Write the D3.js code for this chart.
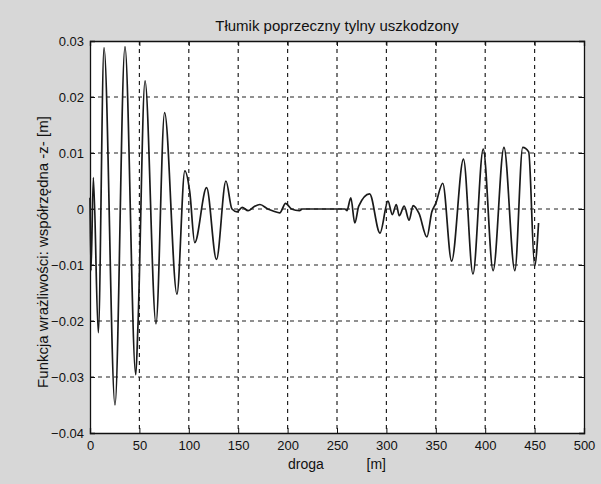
<!DOCTYPE html>
<html>
<head>
<meta charset="utf-8">
<script src="https://cdnjs.cloudflare.com/ajax/libs/d3/7.8.5/d3.min.js"></script>
<style>
  html, body { margin: 0; padding: 0; background: #d7d7d7; }
  svg text { font-family: "Liberation Sans", Arial, sans-serif; fill: #111; }
</style>
</head>
<body>
<div id="chart"></div>
<script>
// Values (extrema of the trace)
const distance = [
  0, 1, 3.4, 8.4, 14.2, 25.3, 35.4, 46.3, 48.5, 55.7, 66.8, 75.5, 88,
  96, 101, 106, 118, 128, 137.6, 143.7, 149, 154, 160, 166, 172, 180, 186, 192, 198, 204, 212, 215,
  258, 260, 264, 268, 272, 283, 293.5, 301.6, 306, 310, 313, 318, 323, 327, 333, 341, 346,
  350, 357, 366, 378, 387.6, 398, 408, 419, 430, 438, 444, 450, 454
];
const response = [
  0.002, -0.011, 0.0056, -0.0221, 0.0288, -0.035, 0.029, -0.0296, -0.021, 0.0229, -0.0205, 0.0172, -0.0152,
  0.0068, 0.003, -0.006, 0.0038, -0.009, 0.005, 0, -0.0005, 0.0003, -0.0003, 0.0004, 0.0008, 0, -0.0004, -0.0007, 0.001, 0, -0.0003, 0,
  0, -0.0003, 0.002, -0.0025, 0.0005, 0.0027, -0.0043, 0.0014, -0.001, 0.0008, -0.0012, 0.0005, -0.002, 0.0006, -0.0008, -0.005, -0.0005,
  0.001, 0.0046, -0.0093, 0.0089, -0.0116, 0.0107, -0.011, 0.011, -0.011, 0.011, 0.0102, -0.0102, -0.0025
];
const xTicks = [0, 50, 100, 150, 200, 250, 300, 350, 400, 450, 500];
const yTicks = [-0.04, -0.03, -0.02, -0.01, 0, 0.01, 0.02, 0.03];

const width = 601, height = 484;
const margin = { top: 41, right: 17, bottom: 51, left: 90 };

const svg = d3.select('#chart').append('svg')
  .attr('width', width)
  .attr('height', height);

const x = d3.scaleLinear().domain([0, 500]).range([margin.left, width - margin.right]);
const y = d3.scaleLinear().domain([-0.04, 0.03]).range([height - margin.bottom, margin.top]);

// plot area
svg.append('rect')
  .attr('x', x(0)).attr('y', y(0.03))
  .attr('width', x(500) - x(0)).attr('height', y(-0.04) - y(0.03))
  .attr('fill', '#fff');

// grid
const grid = svg.append('g').attr('stroke', '#222').attr('stroke-width', 1.2).attr('stroke-dasharray', '4,4');
grid.selectAll('line.gx').data(xTicks.slice(1, -1)).enter().append('line')
  .attr('x1', d => x(d)).attr('x2', d => x(d))
  .attr('y1', y(0.03)).attr('y2', y(-0.04));
grid.selectAll('line.gy').data(yTicks.slice(1, -1)).enter().append('line')
  .attr('y1', d => y(d)).attr('y2', d => y(d))
  .attr('x1', x(0)).attr('x2', x(500));

// axes (MATLAB style: ticks inside)
const xAxis = svg.append('g')
  .attr('transform', `translate(0,${y(-0.04)})`)
  .call(d3.axisBottom(x).tickValues(xTicks).tickSize(-5).tickPadding(8).tickFormat(d3.format('d')));
const yAxis = svg.append('g')
  .attr('transform', `translate(${x(0)},0)`)
  .call(d3.axisLeft(y).tickValues(yTicks).tickSize(-5).tickPadding(6).tickFormat(d => (d === 0 ? '0' : d3.format('.2f')(d))));
svg.append('g')
  .attr('transform', `translate(0,${y(0.03)})`)
  .call(d3.axisTop(x).tickValues(xTicks).tickSize(-5).tickFormat(''));
svg.append('g')
  .attr('transform', `translate(${x(500)},0)`)
  .call(d3.axisRight(y).tickValues(yTicks).tickSize(-5).tickFormat(''));

svg.selectAll('.domain').attr('stroke', '#111').attr('stroke-width', 1.3);
svg.selectAll('.tick line').attr('stroke', '#111');
xAxis.selectAll('text').attr('font-size', 13).attr('fill', '#111');
yAxis.selectAll('text').attr('font-size', 13).attr('fill', '#111');

// trace
const pts = distance.map((d, i) => [d, response[i]]);
svg.append('path')
  .datum(pts)
  .attr('fill', 'none')
  .attr('stroke', '#1a1a1a')
  .attr('stroke-width', 1.7)
  .attr('d', d3.line().x(d => x(d[0])).y(d => y(d[1])).curve(d3.curveMonotoneX));

// labels
svg.append('text')
  .attr('x', (x(0) + x(500)) / 2).attr('y', 31)
  .attr('text-anchor', 'middle').attr('font-size', 15)
  .text('Tłumik poprzeczny tylny uszkodzony');

svg.append('text')
  .attr('x', (x(0) + x(500)) / 2).attr('y', 469)
  .attr('text-anchor', 'middle').attr('font-size', 14)
  .style('white-space', 'pre')
  .text('droga           [m]');

svg.append('text')
  .attr('transform', `translate(48,${(y(0.03) + y(-0.04)) / 2 + 15}) rotate(-90)`)
  .attr('text-anchor', 'middle').attr('font-size', 15)
  .text('Funkcja wrażliwości: współrzędna -z- [m]');
</script>
</body>
</html>
